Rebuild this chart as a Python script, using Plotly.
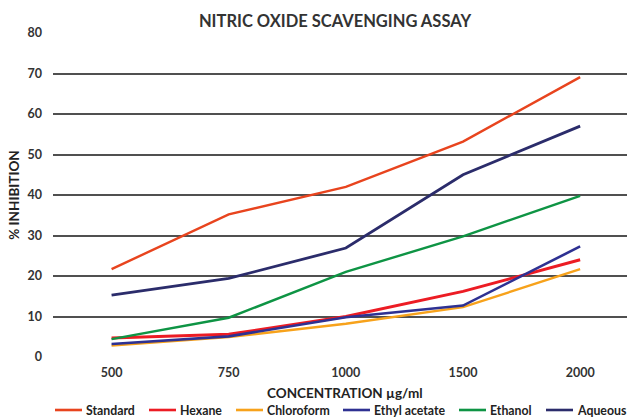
import plotly.graph_objects as go

concentrations = ["500", "750", "1000", "1500", "2000"]
standard = [21.7, 35.2, 42.0, 53.2, 69.1]
hexane = [4.7, 5.6, 10.0, 16.2, 24.0]
chloroform = [2.8, 4.9, 8.2, 12.3, 21.7]
ethyl_acetate = [3.2, 5.1, 9.8, 12.7, 27.3]
ethanol = [4.4, 9.7, 21.0, 29.8, 39.8]
aqueous = [15.3, 19.4, 26.9, 45.0, 57.0]
y_ticks = [0, 10, 20, 30, 40, 50, 60, 70, 80]

series = [
    ("Standard", standard, "#E8441E", 2.4),
    ("Hexane", hexane, "#EC1C24", 3),
    ("Chloroform", chloroform, "#F7A21B", 2.4),
    ("Ethyl acetate", ethyl_acetate, "#2E3192", 2.6),
    ("Ethanol", ethanol, "#0E9444", 2.4),
    ("Aqueous", aqueous, "#2B2C6B", 2.8),
]
# legend layout: pixel start of each legend sample line
legend_line_px = [55, 149, 236, 343, 459, 546]

W, H = 627, 417
L, R, T, B = 53, 0, 33, 60
pw, ph = W - L - R, H - T - B

def px_x(px):
    return (px - L) / pw

def px_y(py):
    return (H - B - py) / ph

xpos = list(range(len(concentrations)))
fig = go.Figure()
for name, vals, color, w in series:
    fig.add_trace(go.Scatter(x=xpos, y=vals, mode="lines", name=name,
                             line=dict(color=color, width=w), showlegend=False))

font_family = "Lato, Open Sans, DejaVu Sans, sans-serif"

# manual legend (shapes + text) to match the reference spacing
legend_y = 410
for (name, _, color, w), x0 in zip(series, legend_line_px):
    fig.add_shape(type="line", xref="paper", yref="paper",
                  x0=px_x(x0), x1=px_x(x0 + 27), y0=px_y(legend_y), y1=px_y(legend_y),
                  line=dict(color=color, width=2.6))
    fig.add_annotation(xref="paper", yref="paper", x=px_x(x0 + 28.5), y=px_y(legend_y),
                       xanchor="left", yanchor="middle", showarrow=False,
                       text="<b>" + name + "</b>",
                       font=dict(size=12.3, color="#222222", family=font_family))

# x-axis title
fig.add_annotation(xref="paper", yref="paper", x=px_x(345), y=px_y(393),
                   xanchor="center", yanchor="middle", showarrow=False,
                   text="<b>CONCENTRATION µg/ml</b>",
                   font=dict(size=13.5, color="#222222", family=font_family))

fig.update_layout(
    width=W, height=H,
    margin=dict(l=L, r=R, t=T, b=B),
    paper_bgcolor="white", plot_bgcolor="white",
    font=dict(family=font_family, color="#333333"),
    title=dict(text="<b>NITRIC OXIDE SCAVENGING ASSAY</b>", x=335/W, xanchor="center",
               y=1 - 21/H, yanchor="middle", font=dict(size=16.5, color="#333333")),
    showlegend=False,
)
fig.update_xaxes(range=[-0.5, 4.40], tickvals=xpos, ticktext=concentrations,
                 showgrid=False, zeroline=False, showline=False, automargin=False,
                 tickfont=dict(size=12.5, color="#333333", weight="bold"),
                 ticklabelstandoff=6)
fig.update_yaxes(range=[0, 80], tickvals=y_ticks, showgrid=True, gridcolor="#505050", gridwidth=1.5,
                 zeroline=False, showline=False, automargin=False,
                 tickfont=dict(size=12.5, color="#333333", weight="bold"),
                 ticklabelstandoff=10,
                 title=dict(text="<b>% INHIBITION</b>", font=dict(size=13.5, color="#222222"),
                            standoff=4))

fig.write_html("out.html", config={"displayModeBar": False},
               post_script="document.body.style.margin='0';document.body.style.overflow='hidden';")
